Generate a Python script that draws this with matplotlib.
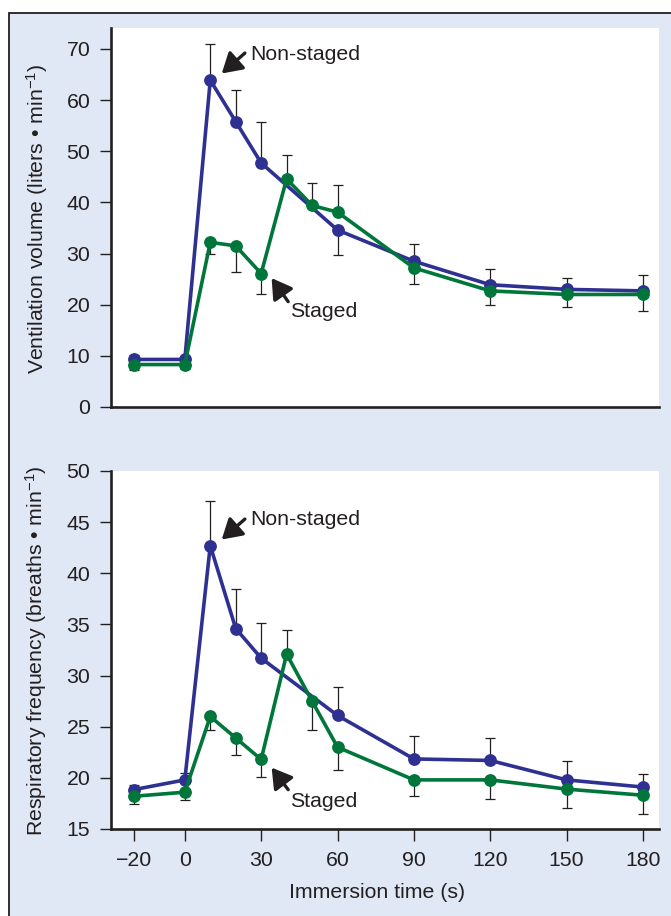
import matplotlib
matplotlib.use("Agg")
import matplotlib.pyplot as plt
from matplotlib.patches import Rectangle

plt.rcParams['font.family'] = ['Liberation Sans', 'DejaVu Sans']
plt.rcParams['mathtext.fontset'] = 'custom'
plt.rcParams['mathtext.rm'] = 'Liberation Sans'
plt.rcParams['mathtext.it'] = 'Liberation Sans:italic'
plt.rcParams['mathtext.bf'] = 'Liberation Sans:bold'

# ---- data -------------------------------------------------------------
time_nonstaged = [-20, 0, 10, 20, 30, 60, 90, 120, 150, 180]
time_staged = [-20, 0, 10, 20, 30, 40, 50, 60, 90, 120, 150, 180]

vent_nonstaged = [9.3, 9.3, 63.9, 55.8, 47.7, 34.6, 28.5, 23.9, 23.0, 22.7]
vent_nonstaged_lo = [0, 0, 0, 0, 0, 4.9, 0, 0, 0, 0]
vent_nonstaged_hi = [0.9, 0, 7.1, 6.2, 8.0, 0, 3.4, 3.1, 2.3, 3.1]

vent_staged = [8.3, 8.3, 32.2, 31.5, 26.1, 44.6, 39.4, 38.1, 27.2, 22.7, 22.0, 22.0]
vent_staged_lo = [1.1, 0.9, 2.3, 5.2, 4.1, 0, 0, 0, 3.2, 2.8, 2.5, 3.2]
vent_staged_hi = [0, 0, 0, 0, 0, 4.7, 4.3, 5.4, 0, 0, 0, 0]

resp_nonstaged = [18.85, 19.8, 42.7, 34.6, 31.7, 26.1, 21.85, 21.7, 19.8, 19.1]
resp_nonstaged_lo = [0, 0, 0, 0, 0, 0, 0, 0, 0, 0]
resp_nonstaged_hi = [0.45, 0.7, 4.4, 3.9, 3.4, 2.8, 2.25, 2.2, 1.8, 1.3]

resp_staged = [18.2, 18.6, 26.0, 23.9, 21.8, 32.1, 27.5, 23.0, 19.8, 19.8, 18.9, 18.3]
resp_staged_lo = [0.8, 0.8, 1.35, 1.7, 1.75, 0, 2.8, 2.2, 1.6, 1.9, 1.85, 1.8]
resp_staged_hi = [0, 0, 0, 0, 0, 2.4, 0, 0, 0, 0, 0, 0]

x_ticks = [-20, 0, 30, 60, 90, 120, 150, 180]
vent_ticks = [0, 10, 20, 30, 40, 50, 60, 70]
resp_ticks = [15, 20, 25, 30, 35, 40, 45, 50]

# ---- style ------------------------------------------------------------
BLUE = '#2e3192'
GREEN = '#00763b'
INK = '#231f20'
PANEL = '#e1e8f5'
FS = 15.3

W, H = 671, 916
fig = plt.figure(figsize=(W / 100, H / 100), dpi=100, facecolor='white')

# light-blue framed panel behind both plots
fig.add_artist(Rectangle((8.5 / W, -0.05), 1.2, (H - 12.5) / H + 0.05,
                         transform=fig.transFigure, facecolor=PANEL,
                         edgecolor=INK, lw=1.3, zorder=0))


def px_axes(left, top, right, bottom):
    return fig.add_axes([left / W, (H - bottom) / H, (right - left) / W, (bottom - top) / H])


def draw_series(ax, x, y, lo, hi, color, z):
    ax.errorbar(x, y, yerr=[lo, hi], fmt='none', ecolor=INK, elinewidth=0.9,
                capsize=3.6, capthick=0.9, zorder=z - 1)
    ax.plot(x, y, '-o', color=color, lw=2.6, ms=8.2, zorder=z, clip_on=False)


def style_axes(ax, ticks, ylim, show_x):
    ax.set_facecolor('white')
    ax.set_xlim(-29.0, 186.3)
    ax.set_ylim(*ylim)
    for s in ('top', 'right'):
        ax.spines[s].set_visible(False)
    for s in ('left', 'bottom'):
        ax.spines[s].set_color(INK)
        ax.spines[s].set_linewidth(1.9)
    ax.set_yticks(ticks)
    ax.tick_params(axis='y', direction='out', length=8, width=1.0, color=INK,
                   labelsize=FS, labelcolor=INK, pad=7)
    if show_x:
        ax.set_xticks(x_ticks)
        ax.tick_params(axis='x', direction='out', length=8.5, width=1.0, color=INK,
                       labelsize=FS, labelcolor=INK, pad=7)
    else:
        ax.set_xticks([])


arrow_kw = dict(arrowstyle='-|>,head_length=0.6,head_width=0.36', color=INK,
                lw=2.4, shrinkA=0, shrinkB=0, mutation_scale=20)

# ---- ventilation volume --------------------------------------------------
ax1 = px_axes(111, 28, 659, 407)
style_axes(ax1, vent_ticks, (0, 74.1), False)
draw_series(ax1, time_nonstaged, vent_nonstaged, vent_nonstaged_lo, vent_nonstaged_hi, BLUE, 4)
draw_series(ax1, time_staged, vent_staged, vent_staged_lo, vent_staged_hi, GREEN, 6)
ax1.annotate('', xy=(14.5, 65.2), xytext=(23.6, 69.2), arrowprops=arrow_kw, zorder=8)
ax1.text(25.6, 69.0, 'Non-staged', fontsize=FS, color=INK, ha='left', va='center')
ax1.annotate('', xy=(34.1, 25.2), xytext=(40.6, 20.6), arrowprops=arrow_kw, zorder=8)
ax1.text(41.3, 18.6, 'Staged', fontsize=FS, color=INK, ha='left', va='center')

# ---- respiratory frequency -------------------------------------------------
ax2 = px_axes(111, 471, 659, 829)
style_axes(ax2, resp_ticks, (15, 50), True)
draw_series(ax2, time_nonstaged, resp_nonstaged, resp_nonstaged_lo, resp_nonstaged_hi, BLUE, 4)
draw_series(ax2, time_staged, resp_staged, resp_staged_lo, resp_staged_hi, GREEN, 6)
ax2.annotate('', xy=(14.5, 43.3), xytext=(23.6, 45.3), arrowprops=arrow_kw, zorder=8)
ax2.text(25.6, 45.3, 'Non-staged', fontsize=FS, color=INK, ha='left', va='center')
ax2.annotate('', xy=(34.1, 21.0), xytext=(40.6, 18.85), arrowprops=arrow_kw, zorder=8)
ax2.text(41.3, 17.7, 'Staged', fontsize=FS, color=INK, ha='left', va='center')

# ---- axis titles ------------------------------------------------------------
fig.text(37 / W, (H - 219) / H, r'Ventilation volume (liters • min$^{-1}$)',
         rotation=90, ha='center', va='center', fontsize=FS, color=INK)
fig.text(36 / W, (H - 651) / H, r'Respiratory frequency (breaths • min$^{-1}$)',
         rotation=90, ha='center', va='center', fontsize=FS, color=INK)
fig.text(377 / W, (H - 893) / H, 'Immersion time (s)',
         ha='center', va='center', fontsize=FS, color=INK)

fig.savefig('out.png', dpi=100, facecolor=fig.get_facecolor())
